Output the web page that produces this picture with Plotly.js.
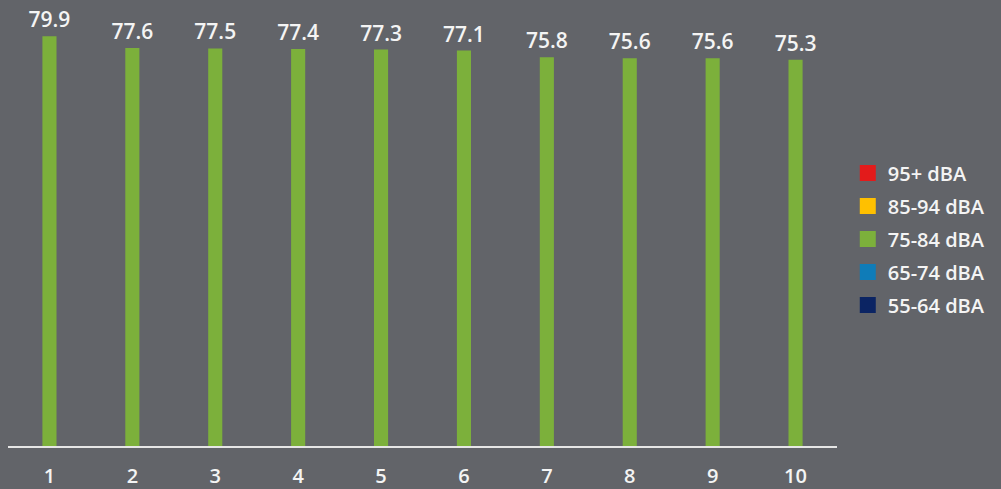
<!DOCTYPE html>
<html><head><meta charset="utf-8">
<script src="https://cdn.plot.ly/plotly-3.0.1.min.js"></script>
<style>html,body{margin:0;padding:0;background:#626469;}</style>
</head><body>
<div id="chart" style="width:1001px;height:489px;"></div>
<script>
const categories = ['1','2','3','4','5','6','7','8','9','10'];
const values = [79.9, 77.6, 77.5, 77.4, 77.3, 77.1, 75.8, 75.6, 75.6, 75.3];
const legendNames = ['95+ dBA','85-94 dBA','75-84 dBA','65-74 dBA','55-64 dBA'];
const legendColors = ['#e31b1b','#ffc000','#7cb03b','#0f7cb8','#0b2463'];
const barColor = '#7cb03b';

const traces = [{
  type: 'bar', x: categories, y: values,
  text: values.map(v => v.toFixed(1)), textposition: 'outside',
  constraintext: 'none',
  textfont: {color: '#f4f4f4', size: 21, family: 'Open Sans, sans-serif', weight: 600},
  cliponaxis: false,
  marker: {color: barColor}, width: 0.17, showlegend: false, hoverinfo: 'skip'
}];
legendNames.forEach((n, i) => {
  traces.push({
    type: 'scatter', mode: 'markers', x: [categories[0]], y: [null], name: n,
    legendgroup: 'g' + i,
    marker: {symbol: 'square', size: 18, color: legendColors[i]}
  });
});

const layout = {
  width: 1001, height: 489,
  margin: {l: 8, r: 164, t: 10, b: 43},
  paper_bgcolor: '#626469', plot_bgcolor: '#626469',
  font: {family: 'Open Sans, sans-serif', color: '#f4f4f4', size: 16},
  barmode: 'overlay',
  xaxis: {type: 'category', range: [-0.5, 9.5], showgrid: false, zeroline: false,
          showline: true, linecolor: '#e6e6e6', linewidth: 2, ticks: '',
          ticklabelstandoff: 11, tickfont: {size: 20, color: '#f4f4f4', weight: 600}, fixedrange: true},
  yaxis: {range: [0, 85], visible: false, fixedrange: true},
  legend: {x: 1.013, xanchor: 'left', y: 0.475, yanchor: 'middle',
           font: {size: 20, color: '#f4f4f4', weight: 600}, traceorder: 'grouped', tracegroupgap: 4,
           itemclick: false, bgcolor: 'rgba(0,0,0,0)'},
  showlegend: true
};
Plotly.newPlot('chart', traces, layout, {displayModeBar: false, staticPlot: true});
</script>
</body></html>
